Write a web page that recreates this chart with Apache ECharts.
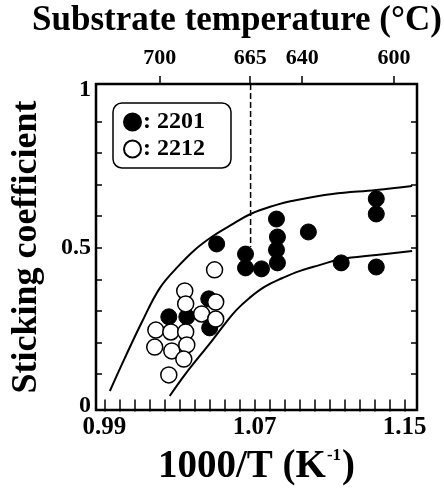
<!DOCTYPE html>
<html>
<head>
<meta charset="utf-8">
<script src="https://cdn.jsdelivr.net/npm/echarts@6/dist/echarts.min.js"></script>
<style>
  html, body { margin: 0; padding: 0; background: #fff; }
  #chart { width: 444px; height: 491px; }
</style>
</head>
<body>
<div id="chart"></div>
<script>
// Sticking coefficient vs inverse substrate temperature, 2201 and 2212 phases

// 2201 (filled) points: [1000/T, sticking coefficient]
const series2201 = [
  [1.0243, 0.281], [1.0339, 0.281], [1.0456, 0.338], [1.0461, 0.246],
  [1.0498, 0.512], [1.0652, 0.480], [1.0652, 0.436], [1.0737, 0.433],
  [1.0817, 0.591], [1.0822, 0.534], [1.0817, 0.493], [1.0822, 0.452],
  [1.0987, 0.550], [1.1162, 0.452], [1.1349, 0.655], [1.1349, 0.607],
  [1.1349, 0.439]
];

// 2212 (open) points
const series2212 = [
  [1.0174, 0.239], [1.0168, 0.185], [1.0254, 0.233], [1.0259, 0.173],
  [1.0333, 0.233], [1.0339, 0.192], [1.0323, 0.147], [1.0243, 0.097],
  [1.0328, 0.363], [1.0333, 0.322], [1.0418, 0.290], [1.0493, 0.328],
  [1.0493, 0.274], [1.0487, 0.430]
];

// Upper and lower envelope curves
const upperCurve = [
  [0.9929, 0.046], [1.0009, 0.151], [1.0105, 0.271], [1.0195, 0.372],
  [1.0285, 0.436], [1.0381, 0.493], [1.0471, 0.534], [1.0567, 0.569],
  [1.0679, 0.607], [1.0817, 0.636], [1.0897, 0.648], [1.1115, 0.670],
  [1.1349, 0.683], [1.1540, 0.696]
];
const lowerCurve = [
  [1.0248, 0.030], [1.0328, 0.097], [1.0408, 0.157], [1.0477, 0.208],
  [1.0541, 0.258], [1.0604, 0.303], [1.0673, 0.341], [1.0753, 0.376],
  [1.0849, 0.404], [1.0939, 0.426], [1.1046, 0.445], [1.1162, 0.464],
  [1.1349, 0.477], [1.1540, 0.490]
];

// Boundary at 665 °C (dashed)
const boundaryX = 1.0679;
const boundaryYRange = [0.502, 1.019];

// Axis ticks and labels
const xTicks = [0.99, 0.998, 1.006, 1.014, 1.022, 1.03, 1.038, 1.046, 1.054, 1.062,
  1.07, 1.078, 1.086, 1.094, 1.102, 1.11, 1.118, 1.126, 1.134, 1.142, 1.15];
const xLabels = [0.99, 1.07, 1.15];
const yTicks = [0.1, 0.2, 0.3, 0.4, 0.5, 0.6, 0.7, 0.8, 0.9];
const yLabels = [0, 0.5, 1];
const tempTickPos = [1.0195, 1.0677, 1.0954, 1.1444];
const tempLabels = ['700', '665', '640', '600'];

const X_MIN = 0.9855, X_MAX = 1.1566, Y_MIN = -0.0143, Y_MAX = 1.019;
const FONT = "'Liberation Serif', 'Times New Roman', serif";

const chart = echarts.init(document.getElementById('chart'), null, { renderer: 'canvas' });

function nearestIndex(arr, v) {
  let best = 0;
  arr.forEach((a, i) => { if (Math.abs(a - v) < Math.abs(arr[best] - v)) best = i; });
  return best;
}

const tickStyle = { lineStyle: { color: '#000', width: 1.5 } };

chart.setOption({
  animation: false,
  backgroundColor: '#fff',
  title: {
    text: 'Substrate temperature (°C)',
    left: 27,
    top: -2,
    textStyle: { fontFamily: FONT, fontWeight: 'bold', fontSize: 35, color: '#000' }
  },
  legend: {
    orient: 'vertical',
    left: 113,
    top: 103,
    padding: [7, 26, 7, 10],
    itemGap: 3,
    itemWidth: 17,
    itemHeight: 17,
    borderColor: '#000',
    borderWidth: 1.5,
    borderRadius: 9,
    icon: 'circle',
    formatter: name => ': ' + name,
    textStyle: { fontFamily: FONT, fontWeight: 'bold', fontSize: 24, color: '#000', padding: [0, 0, 0, -3] },
    data: ['2201', '2212']
  },
  grid: {
    left: 96, right: 27, top: 84, bottom: 81,
    show: true, borderColor: '#000', borderWidth: 2.5, backgroundColor: 'transparent'
  },
  xAxis: [
    {
      type: 'value', position: 'bottom', min: X_MIN, max: X_MAX,
      name: '1000/T (K{sup|-1})',
      nameLocation: 'middle', nameGap: 37,
      nameTextStyle: {
        fontFamily: FONT, fontWeight: 'bold', fontSize: 39, color: '#000',
        rich: { sup: { fontFamily: FONT, fontWeight: 'bold', fontSize: 17, verticalAlign: 'top', padding: [0, 1, 16, 1] } }
      },
      axisLine: { show: false },
      splitLine: { show: false },
      axisTick: { inside: true, length: 6, customValues: xTicks, ...tickStyle },
      axisLabel: {
        customValues: xLabels, margin: 5,
        formatter: v => v.toFixed(2),
        fontFamily: FONT, fontWeight: 'bold', fontSize: 25, color: '#000'
      }
    },
    {
      type: 'value', position: 'top', min: X_MIN, max: X_MAX,
      axisLine: { show: false },
      splitLine: { show: false },
      axisTick: { inside: true, length: 6, customValues: xTicks, ...tickStyle },
      axisLabel: { show: false }
    },
    {
      type: 'value', position: 'top', min: X_MIN, max: X_MAX,
      axisLine: { show: false },
      splitLine: { show: false },
      axisTick: { inside: false, length: 8, customValues: tempTickPos, ...tickStyle },
      axisLabel: {
        customValues: tempTickPos, margin: 15,
        formatter: v => tempLabels[nearestIndex(tempTickPos, v)],
        fontFamily: FONT, fontWeight: 'bold', fontSize: 22, color: '#000'
      }
    }
  ],
  yAxis: [
    {
      type: 'value', position: 'left', min: Y_MIN, max: Y_MAX,
      name: 'Sticking coefficient',
      nameLocation: 'middle', nameGap: 51, nameRotate: 90,
      nameTextStyle: { fontFamily: FONT, fontWeight: 'bold', fontSize: 36, color: '#000' },
      axisLine: { show: false },
      splitLine: { show: false },
      axisTick: { inside: true, length: 6, customValues: yTicks, ...tickStyle },
      axisLabel: {
        customValues: yLabels, margin: 5,
        formatter: v => String(v),
        fontFamily: FONT, fontWeight: 'bold', fontSize: 24, color: '#000'
      }
    },
    {
      type: 'value', position: 'right', min: Y_MIN, max: Y_MAX,
      axisLine: { show: false },
      splitLine: { show: false },
      axisTick: { inside: true, length: 6, customValues: yTicks, ...tickStyle },
      axisLabel: { show: false }
    }
  ],
  series: [
    {
      name: 'upper', type: 'line', data: upperCurve, smooth: 0.4,
      symbol: 'none', lineStyle: { color: '#000', width: 2 }, z: 2
    },
    {
      name: 'lower', type: 'line', data: lowerCurve, smooth: 0.4,
      symbol: 'none', lineStyle: { color: '#000', width: 2 }, z: 2
    },
    {
      name: 'boundary', type: 'line',
      data: [[boundaryX, boundaryYRange[1]], [boundaryX, boundaryYRange[0]]],
      symbol: 'none', lineStyle: { color: '#000', width: 1.5, type: [6, 3] }, z: 2
    },
    {
      name: '2201', type: 'scatter', data: series2201, symbol: 'circle', symbolSize: 16,
      itemStyle: { color: '#000', borderColor: '#000', borderWidth: 1, opacity: 1 }, z: 3
    },
    {
      name: '2212', type: 'scatter', data: series2212, symbol: 'circle', symbolSize: 16,
      itemStyle: { color: '#fff', borderColor: '#000', borderWidth: 1.5, opacity: 1 }, z: 4
    }
  ]
});
</script>
</body>
</html>
